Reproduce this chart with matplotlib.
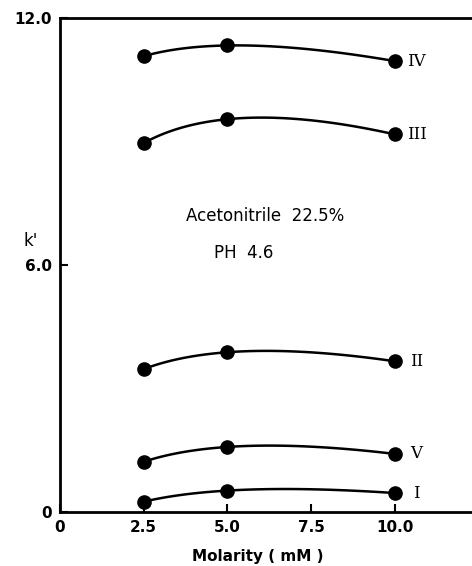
import matplotlib
matplotlib.use("Agg")
import matplotlib.pyplot as plt
import numpy as np

# molarity (mM) and k' for each compound
molarity = [2.5, 5.0, 10.0]
k_IV = [11.07, 11.33, 10.95]
k_III = [8.96, 9.54, 9.17]
k_II = [3.47, 3.88, 3.66]
k_V = [1.22, 1.58, 1.41]
k_I = [0.25, 0.52, 0.46]

series = [("IV", k_IV), ("III", k_III), ("II", k_II), ("V", k_V), ("I", k_I)]
label_dx = {"IV": 0.35, "III": 0.35, "II": 0.45, "V": 0.45, "I": 0.55}

xticks = [0, 2.5, 5.0, 7.5, 10.0]
xticklabels = ["0", "2.5", "5.0", "7.5", "10.0"]
yticks = [0, 6.0, 12.0]
yticklabels = ["0", "6.0", "12.0"]

fig = plt.figure(figsize=(4.72, 5.66), dpi=100)
ax = fig.add_axes([0.127, 0.0954, 0.873, 0.873])

for name, k in series:
    # smooth curve through the three points (parabola in sqrt molarity)
    c = np.polyfit(np.sqrt(molarity), k, 2)
    xs = np.linspace(molarity[0], molarity[-1], 100)
    ax.plot(xs, np.polyval(c, np.sqrt(xs)), color="black", lw=1.8)
    ax.plot(molarity, k, "o", color="black", ms=9.5)
    ax.text(molarity[-1] + label_dx[name], k[-1], name, fontsize=12,
            family="DejaVu Serif", va="center", ha="left")

ax.text(3.75, 7.2, "Acetonitrile  22.5%", fontsize=12, ha="left", va="center")
ax.text(4.6, 6.3, "PH  4.6", fontsize=12, ha="left", va="center")

ax.set_xlim(0, 12.3)
ax.set_ylim(0, 12.0)
ax.set_xticks(xticks)
ax.set_xticklabels(xticklabels, fontweight="bold")
ax.set_yticks(yticks)
ax.set_yticklabels(yticklabels, fontweight="bold")
ax.tick_params(direction="in", length=6, width=1.5, labelsize=11, pad=6)

for s in ["left", "bottom", "top"]:
    ax.spines[s].set_linewidth(2)
ax.spines["right"].set_visible(False)

ax.set_xlabel("Molarity ( mM )", fontsize=11, fontweight="bold", labelpad=10)
ax.xaxis.set_label_coords(0.48, -0.075)
ax.set_ylabel("k'", fontsize=12, rotation=0)
ax.yaxis.set_label_coords(-0.07, 0.53)

fig.savefig("out.png", dpi=100)
